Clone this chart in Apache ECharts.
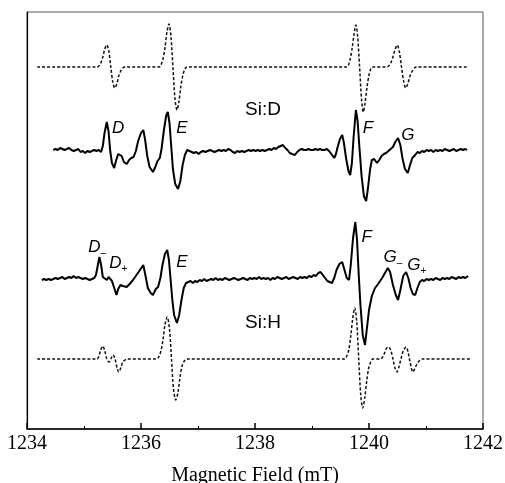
<!DOCTYPE html>
<html><head><meta charset="utf-8">
<script src="https://cdn.jsdelivr.net/npm/echarts@6/dist/echarts.min.js"></script>
<style>html,body{margin:0;padding:0;background:#fff}#c{width:505px;height:483px}</style>
</head><body><div id="c"></div>
<script>
// x: magnetic field (mT); y: derivative ESR intensity (arb. units, relative to each trace baseline)
var xTicks = [1234, 1236, 1238, 1240, 1242];
var traceOffsets = [362, 278, 149, 70]; // vertical stacking of the 4 traces

// Simulated Si:D (dotted, top)
var simD = [[1234.18,0],[1235.225,0],[1235.26,1],[1235.295,4],[1235.33,10],[1235.365,18],[1235.40,22],[1235.435,16],[1235.47,0],[1235.505,-15],[1235.54,-21],[1235.575,-17],[1235.61,-9],[1235.645,-4],[1235.68,-1],[1235.715,0],
[1236.315,0],[1236.35,2],[1236.385,8],[1236.42,19],[1236.455,35],[1236.49,43],[1236.525,31],[1236.56,0],[1236.595,-31],[1236.63,-43],[1236.665,-35],[1236.70,-19],[1236.735,-8],[1236.77,-2],[1236.805,0],
[1239.61,0],[1239.64,2],[1239.67,8],[1239.705,19],[1239.74,34],[1239.77,42],[1239.80,31],[1239.835,0],[1239.87,-33],[1239.90,-45],[1239.93,-36],[1239.965,-20],[1240.00,-8],[1240.03,-2],[1240.06,0],
[1240.31,0],[1240.345,1],[1240.38,4],[1240.42,10],[1240.46,18],[1240.495,22],[1240.53,16],[1240.57,0],[1240.61,-15],[1240.645,-21],[1240.68,-17],[1240.72,-9],[1240.76,-4],[1240.795,-1],[1240.83,0],[1241.74,0]];

// Experimental Si:D (solid)
var expD = [[1234.46,1],[1234.50,2],[1234.54,1],[1234.58,3],[1234.62,2],[1234.66,1],[1234.70,2],[1234.74,3],[1234.78,1],[1234.82,0],[1234.86,1],[1234.90,2],[1234.94,-1],[1234.98,0],[1235.02,-2],[1235.06,0],[1235.10,-1],[1235.14,0],[1235.18,1],[1235.22,0],[1235.26,1],[1235.30,-1],
[1235.33,5],[1235.36,18],[1235.40,29],[1235.43,20],[1235.46,0],[1235.49,-12],[1235.53,-17],[1235.56,-10],[1235.60,-3],[1235.63,-2],[1235.66,-5],[1235.70,-11],[1235.75,-13],[1235.79,-9],[1235.83,-7],[1235.87,-6],[1235.91,0],[1235.95,10],[1236.00,18],[1236.04,21],[1236.07,12],[1236.11,-5],[1236.15,-16],[1236.21,-21],[1236.25,-16],[1236.29,-10],[1236.33,-7],[1236.36,2],[1236.40,20],[1236.44,35],[1236.47,39],[1236.50,28],[1236.53,5],[1236.56,-18],[1236.60,-33],[1236.65,-38],[1236.69,-30],[1236.73,-14],[1236.77,-4],[1236.81,1],[1236.85,0],[1236.89,-1],
[1236.93,-2],[1236.97,-1],[1237.01,-3],[1237.05,-1],[1237.09,0],[1237.13,-1],[1237.17,0],[1237.21,1],[1237.25,0],[1237.29,-1],[1237.33,0],[1237.37,1],[1237.41,0],[1237.45,1],[1237.49,0],[1237.53,2],[1237.57,1],[1237.61,-1],[1237.65,-2],[1237.69,0],[1237.73,-1],[1237.77,0],[1237.81,-1],[1237.85,0],[1237.89,1],[1237.93,0],[1237.97,1],[1238.01,0],[1238.05,1],[1238.09,0],[1238.13,1],[1238.17,0],[1238.21,1],[1238.25,2],[1238.29,1],[1238.33,3],[1238.37,2],[1238.41,4],[1238.45,5],[1238.49,6],[1238.53,3],[1238.57,1],[1238.61,-2],[1238.65,-3],[1238.70,-4],[1238.74,-1],[1238.78,1],[1238.82,2],[1238.86,1],[1238.90,1],[1238.94,2],[1238.98,1],[1239.02,1],[1239.06,2],[1239.10,1],[1239.14,2],[1239.18,1],[1239.22,1],[1239.26,2],[1239.30,0],[1239.34,-3],[1239.39,-7],[1239.42,-3],[1239.45,4],[1239.49,12],[1239.53,16],[1239.56,8],[1239.60,-8],[1239.64,-20],[1239.67,-24],[1239.70,-12],[1239.73,14],[1239.77,41],[1239.80,30],[1239.83,5],[1239.87,-25],[1239.91,-45],[1239.95,-50],[1239.98,-38],[1240.02,-18],[1240.05,-9],[1240.09,-8],[1240.14,-12],[1240.18,-9],[1240.22,-5],[1240.26,-3],[1240.30,-2],[1240.34,0],[1240.38,2],[1240.42,4],[1240.46,9],[1240.51,13],[1240.55,6],[1240.59,-8],[1240.63,-18],[1240.68,-22],[1240.72,-14],[1240.76,-7],[1240.81,-4],[1240.85,-1],[1240.89,-2],[1240.93,0],[1240.97,-1],[1241.01,1],[1241.05,0],[1241.09,1],[1241.13,-1],[1241.17,1],[1241.21,0],[1241.25,1],[1241.29,0],[1241.33,2],[1241.37,1],[1241.41,0],[1241.45,1],[1241.49,2],[1241.53,0],[1241.57,1],[1241.61,2],[1241.65,1],[1241.69,2],[1241.72,1]];

// Experimental Si:H (solid)
var expH = [[1234.26,0],[1234.30,1],[1234.34,0],[1234.38,1],[1234.42,0],[1234.46,1],[1234.50,2],[1234.54,1],[1234.58,2],[1234.62,3],[1234.66,1],[1234.70,2],[1234.74,3],[1234.78,2],[1234.82,4],[1234.86,2],[1234.90,3],[1234.94,2],[1234.98,1],[1235.02,2],[1235.06,1],[1235.10,0],[1235.14,1],[1235.18,2],
[1235.21,5],[1235.24,14],[1235.27,23],[1235.30,15],[1235.33,3],[1235.36,2],[1235.40,0],[1235.43,3],[1235.46,1],[1235.49,-1],[1235.53,-8],[1235.57,-15],[1235.60,-9],[1235.64,-5],[1235.68,-6],[1235.75,-7],[1235.80,-4],[1235.86,0],[1235.92,5],[1235.97,9],[1236.04,15],[1236.08,4],[1236.12,-8],[1236.17,-13],[1236.21,-15],[1236.26,-9],[1236.30,-7],[1236.34,2],[1236.38,16],[1236.42,26],[1236.46,30],[1236.49,20],[1236.52,0],[1236.55,-20],[1236.58,-35],[1236.63,-43],[1236.67,-35],[1236.71,-20],[1236.75,-8],[1236.79,-3],[1236.83,-2],
[1236.87,-1],[1236.91,-3],[1236.95,-1],[1236.99,-2],[1237.03,0],[1237.07,-1],[1237.11,1],[1237.15,-1],[1237.19,0],[1237.23,1],[1237.27,0],[1237.31,2],[1237.35,0],[1237.39,1],[1237.43,0],[1237.47,2],[1237.51,1],[1237.55,0],[1237.59,1],[1237.63,2],[1237.67,1],[1237.71,0],[1237.75,1],[1237.79,2],[1237.83,1],[1237.87,0],[1237.91,2],[1237.95,1],[1237.99,2],[1238.03,1],[1238.07,3],[1238.11,1],[1238.15,2],[1238.19,1],[1238.23,2],[1238.27,0],[1238.31,2],[1238.35,1],[1238.39,3],[1238.43,2],[1238.47,1],[1238.51,2],[1238.55,3],[1238.59,1],[1238.63,2],[1238.67,3],[1238.71,2],[1238.75,1],[1238.79,3],[1238.83,2],[1238.87,3],[1238.91,2],[1238.95,4],[1238.99,3],[1239.03,5],[1239.07,4],[1239.11,7],[1239.15,8],[1239.19,5],[1239.23,2],[1239.27,-1],[1239.31,-2],[1239.35,-3],[1239.39,2],[1239.43,10],[1239.48,16],[1239.53,18],[1239.57,10],[1239.61,2],[1239.65,0],[1239.68,15],[1239.72,42],[1239.76,58],[1239.79,40],[1239.82,5],[1239.85,-25],[1239.89,-55],[1239.93,-65],[1239.96,-50],[1240.00,-30],[1240.05,-16],[1240.105,-8],[1240.16,-4],[1240.23,2],[1240.28,7],[1240.33,12],[1240.37,8],[1240.42,-5],[1240.47,-15],[1240.51,-20],[1240.55,-10],[1240.60,4],[1240.65,8],[1240.69,2],[1240.73,-8],[1240.77,-14],[1240.81,-15],[1240.85,-8],[1240.89,-2],[1240.93,0],[1240.97,-1],[1241.01,1],[1241.05,0],[1241.09,1],[1241.13,0],[1241.17,2],[1241.21,1],[1241.25,0],[1241.29,2],[1241.33,1],[1241.37,2],[1241.41,1],[1241.45,3],[1241.49,2],[1241.53,1],[1241.57,3],[1241.61,2],[1241.65,3],[1241.69,2],[1241.74,4]];

// Simulated Si:H (dotted, bottom)
var simH = [[1234.18,0],[1235.23,0],[1235.26,3],[1235.30,10],[1235.33,13],[1235.365,8],[1235.40,0],[1235.44,-3],[1235.47,0],[1235.51,4],[1235.545,0],[1235.58,-9],[1235.61,-13],[1235.645,-9],[1235.68,-3],[1235.72,-1],[1235.75,0],
[1236.27,0],[1236.31,2],[1236.35,8],[1236.385,19],[1236.42,34],[1236.46,42],[1236.50,30],[1236.535,0],[1236.57,-30],[1236.61,-41],[1236.65,-33],[1236.685,-18],[1236.72,-7],[1236.76,-2],[1236.80,0],
[1239.575,0],[1239.61,3],[1239.645,9],[1239.68,23],[1239.715,41],[1239.75,51],[1239.785,37],[1239.82,0],[1239.855,-36],[1239.89,-49],[1239.925,-39],[1239.96,-22],[1239.995,-9],[1240.03,-3],[1240.065,0],
[1240.20,0],[1240.24,2],[1240.28,7],[1240.31,11],[1240.35,12],[1240.385,8],[1240.42,0],[1240.455,-9],[1240.49,-13],[1240.525,-8],[1240.56,0],[1240.60,8],[1240.65,12],[1240.685,7],[1240.72,-3],[1240.77,-13],[1240.80,-10],[1240.84,-5],[1240.88,-2],[1240.93,0],[1241.77,0]];

// text annotations [text, field, y (chart units), style]
var annotations = [
  ['Si:D', 1238.14, 319, 'plain'],
  ['D', 1235.60, 301, 'ital'], ['E', 1236.72, 301, 'ital'], ['F', 1239.98, 301, 'ital'], ['G', 1240.68, 294, 'ital'],
  ['D-', 1235.23, 182, 'sub-'], ['D+', 1235.60, 166, 'sub+'], ['E', 1236.72, 167, 'ital'], ['F', 1239.96, 192, 'ital'],
  ['G-', 1240.42, 172, 'sub-'], ['G+', 1240.84, 164, 'sub+'],
  ['Si:H', 1238.14, 106, 'plain']
];

function shift(arr, off) { return arr.map(function (p) { return [p[0], p[1] + off]; }); }

var chart = echarts.init(document.getElementById('c'), null, {renderer: 'canvas'});
var dotted = {color: '#111', width: 1.5, type: [3, 2]};
var solid = {color: '#000', width: 2};
chart.setOption({
  animation: false,
  backgroundColor: '#fff',
  grid: {left: 27, right: 22, top: 12, bottom: 54, show: true, borderColor: '#555', borderWidth: 1,
         containLabel: false, outerBoundsMode: 'none'},
  xAxis: {
    type: 'value', min: 1234, max: 1242, interval: 2,
    axisLine: {show: true, lineStyle: {color: '#000', width: 1.5}},
    axisTick: {show: true, inside: true, length: 6, lineStyle: {color: '#000', width: 1.5}},
    minorTick: {show: true, splitNumber: 2, length: 3, lineStyle: {color: '#000'}},
    splitLine: {show: false},
    axisLabel: {color: '#000', fontFamily: 'Liberation Serif', fontSize: 20, margin: 5,
      formatter: function (v) { return xTicks.indexOf(v) >= 0 ? String(v) : ''; }},
    name: 'Magnetic Field (mT)', nameLocation: 'middle', nameGap: 37,
    nameTextStyle: {color: '#000', fontFamily: 'Liberation Serif', fontSize: 20}
  },
  yAxis: {
    type: 'value', min: 0, max: 417,
    axisLine: {show: true, lineStyle: {color: '#000', width: 1.2}},
    axisTick: {show: false}, axisLabel: {show: false}, splitLine: {show: false}
  },
  series: [
    {type: 'line', data: shift(simD, traceOffsets[0]), showSymbol: false, smooth: 0.3, lineStyle: dotted},
    {type: 'line', data: shift(expD, traceOffsets[1]), showSymbol: false, lineStyle: solid},
    {type: 'line', data: shift(expH, traceOffsets[2]), showSymbol: false, lineStyle: solid},
    {type: 'line', data: shift(simH, traceOffsets[3]), showSymbol: false, smooth: 0.3, lineStyle: dotted}
  ]
});

var g = annotations.map(function (a) {
  var p = chart.convertToPixel({gridIndex: 0}, [a[1], a[2]]);
  var style;
  if (a[3] === 'plain') {
    style = {text: a[0], font: '19px "Liberation Sans", Arial, sans-serif', fill: '#000', align: 'center', verticalAlign: 'middle'};
  } else if (a[3] === 'ital') {
    style = {text: a[0], font: 'italic 17px "Liberation Sans", Arial, sans-serif', fill: '#000', align: 'center', verticalAlign: 'middle'};
  } else {
    var sub = a[3] === 'sub-' ? '\u2013' : '+';
    style = {text: '{m|' + a[0].charAt(0) + '}{s|' + sub + '}', fill: '#000', align: 'center', verticalAlign: 'middle',
      rich: {m: {fontFamily: 'Liberation Sans', fontStyle: 'italic', fontSize: 17, verticalAlign: 'bottom'},
             s: {fontFamily: 'Liberation Sans', fontSize: 10, verticalAlign: 'bottom', padding: [0, 0, -3, 0]}}};
  }
  return {type: 'text', x: p[0], y: p[1], style: style, z: 100};
});
chart.setOption({graphic: g});
</script>
</body></html>
